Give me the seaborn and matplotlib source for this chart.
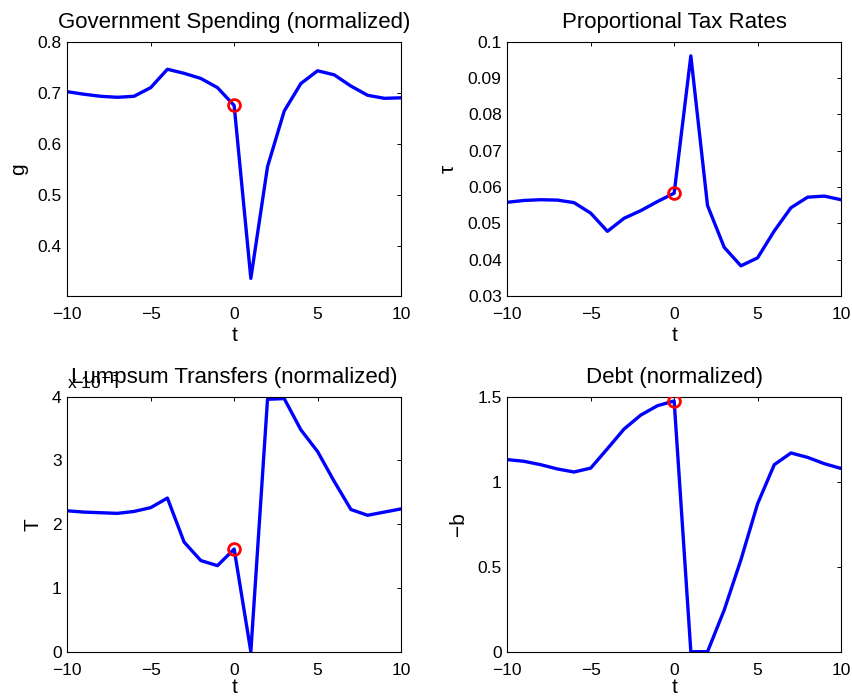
import numpy as np
import matplotlib
matplotlib.use("Agg")
import matplotlib.pyplot as plt
import seaborn as sns
from matplotlib.ticker import FuncFormatter

# ---- data ----
t = list(range(-10, 11))
g = [0.702, 0.697, 0.693, 0.691, 0.693, 0.710, 0.746, 0.738, 0.728, 0.710, 0.675,
     0.336, 0.555, 0.664, 0.718, 0.743, 0.735, 0.713, 0.695, 0.689, 0.690]
tau = [0.0558, 0.0563, 0.0565, 0.0564, 0.0557, 0.0528, 0.0478, 0.0514, 0.0535, 0.0560, 0.0583,
       0.0961, 0.0549, 0.0434, 0.0383, 0.0405, 0.0479, 0.0543, 0.0572, 0.0575, 0.0565]
T = [2.21e-3, 2.19e-3, 2.18e-3, 2.17e-3, 2.20e-3, 2.26e-3, 2.41e-3, 1.72e-3, 1.43e-3, 1.35e-3, 1.61e-3,
     0.0, 3.96e-3, 3.97e-3, 3.48e-3, 3.14e-3, 2.67e-3, 2.23e-3, 2.14e-3, 2.19e-3, 2.24e-3]
negb = [1.130, 1.120, 1.100, 1.075, 1.057, 1.080, 1.194, 1.310, 1.392, 1.447, 1.475,
        0.0, 0.0, 0.245, 0.540, 0.870, 1.100, 1.169, 1.143, 1.106, 1.078]

titles = ["Government Spending (normalized)", "Proportional Tax Rates",
          "Lumpsum Transfers (normalized)", "Debt (normalized)"]
ylabels = ["g", "\u03c4", "T", "\u2212b"]
xticks = [-10, -5, 0, 5, 10]
yticks_g = [0.4, 0.5, 0.6, 0.7, 0.8]
yticks_tau = [0.03, 0.04, 0.05, 0.06, 0.07, 0.08, 0.09, 0.1]
yticks_T = [0, 1e-3, 2e-3, 3e-3, 4e-3]
yticks_b = [0, 0.5, 1, 1.5]

sns.set_style("white")
plt.rcParams["font.family"] = ["Liberation Sans", "DejaVu Sans"]
plt.rcParams["axes.unicode_minus"] = True
plt.rcParams["text.color"] = "black"
plt.rcParams["axes.labelcolor"] = "black"
plt.rcParams["xtick.color"] = "black"
plt.rcParams["ytick.color"] = "black"

fig = plt.figure(figsize=(8.52, 6.97), dpi=100)
W, H = 852.0, 697.0
boxes = [(67.3, 41.7, 401.0, 296.0), (507.3, 41.7, 841.0, 296.0),
         (67.3, 396.7, 401.0, 651.7), (507.3, 396.7, 841.0, 651.7)]
axes = []
for (l, tp, r, b) in boxes:
    axes.append(fig.add_axes([l / W, 1 - b / H, (r - l) / W, (b - tp) / H]))

series = [g, tau, T, negb]
ylims = [(0.3015, 0.8), (0.03, 0.1), (0, 4e-3), (0, 1.5)]
yticks = [yticks_g, yticks_tau, yticks_T, yticks_b]
xlabelpads = [3, 3, 0, 0]

for ax, y, ttl, yl, lim, yt, xlp in zip(axes, series, titles, ylabels, ylims, yticks, xlabelpads):
    sns.lineplot(x=t, y=y, ax=ax, color=(0, 0, 1), linewidth=2.4)
    ax.plot([t[10]], [y[10]], "o", mfc="none", mec=(1, 0, 0), ms=8.5, mew=2.0, zorder=5)
    ax.set_xlim(-10, 10)
    ax.set_ylim(*lim)
    ax.set_xticks(xticks)
    ax.set_yticks(yt)
    ax.set_title(ttl, fontsize=16, pad=10, color="black")
    ax.set_xlabel("t", fontsize=15, labelpad=xlp)
    ax.set_ylabel(yl, fontsize=15, labelpad=7)
    ax.tick_params(direction="in", length=3, width=0.7, top=True, right=True,
                   labelsize=12.5, color="black", labelcolor="black")
    ax.tick_params(axis="x", pad=8)
    ax.tick_params(axis="y", pad=4)
    for s in ax.spines.values():
        s.set_visible(True)
        s.set_linewidth(0.8)
        s.set_color("black")

axes[0].yaxis.set_major_formatter(FuncFormatter(lambda v, p: f"{v:g}"))
axes[1].yaxis.set_major_formatter(FuncFormatter(lambda v, p: f"{v:g}"))
axes[2].yaxis.set_major_formatter(FuncFormatter(lambda v, p: f"{v / 1e-3:g}"))
axes[3].yaxis.set_major_formatter(FuncFormatter(lambda v, p: f"{v:g}"))
axes[2].text(0.0, 1.02, r"x 10$^{-3}$", transform=axes[2].transAxes,
             ha="left", va="bottom", fontsize=12.5, zorder=0, color="black")

fig.savefig("out.png", dpi=100)
